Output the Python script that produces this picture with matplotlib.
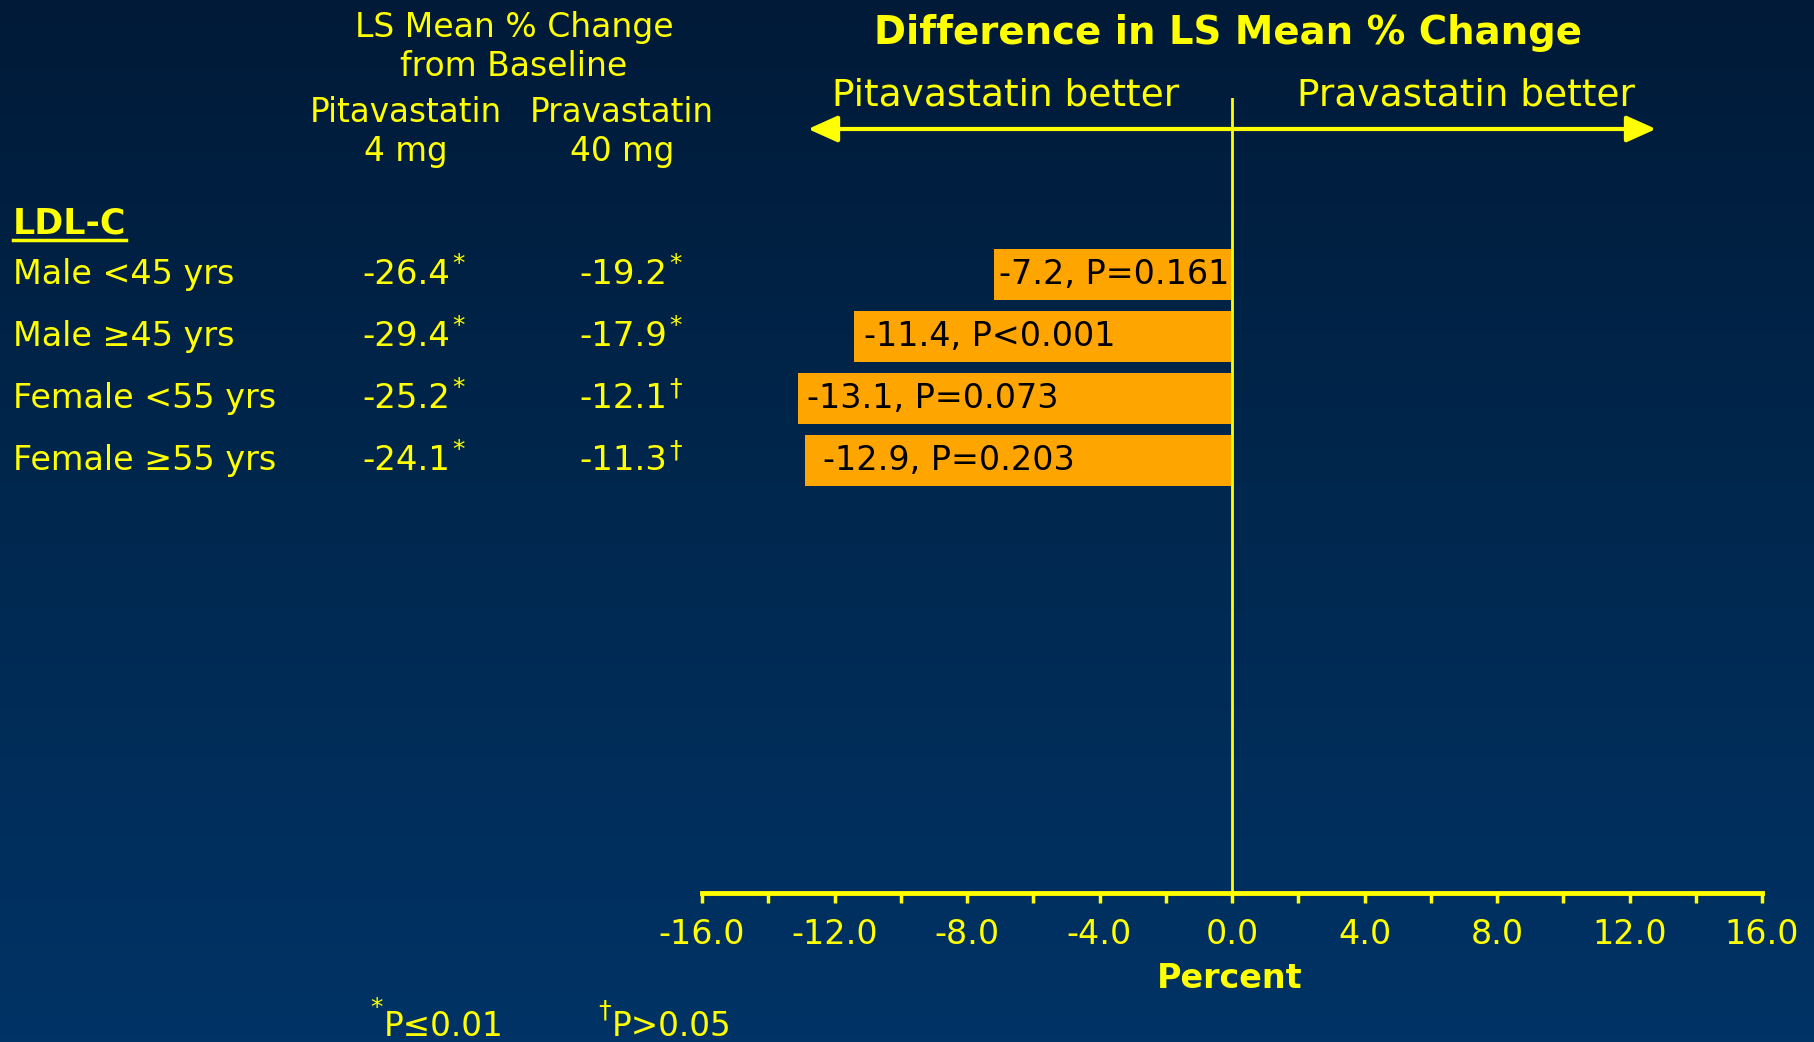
import numpy as np
import matplotlib
matplotlib.use("Agg")
import matplotlib.pyplot as plt
import matplotlib.transforms as mtransforms
from matplotlib.colors import LinearSegmentedColormap

# ---------------- data ----------------
groups = ["Male <45 yrs", "Male \u226545 yrs", "Female <55 yrs", "Female \u226555 yrs"]
pita_vals = ["-26.4", "-29.4", "-25.2", "-24.1"]
pita_marks = ["*", "*", "*", "*"]
prava_vals = ["-19.2", "-17.9", "-12.1", "-11.3"]
prava_marks = ["*", "*", "\u2020", "\u2020"]
diff_vals = [-7.2, -11.4, -13.1, -12.9]
diff_labels = ["-7.2, P=0.161", "-11.4, P<0.001", "-13.1, P=0.073", "-12.9, P=0.203"]
xticks_all = list(range(-16, 17, 2))
xtick_labels = ["%.1f" % t if t % 4 == 0 else "" for t in xticks_all]

YEL = "#FFFF00"
ORANGE = "#FFA500"
plt.rcParams["font.family"] = ["DejaVu Sans"]

W, H = 1814, 1042
fig = plt.figure(figsize=(W / 100, H / 100), dpi=100)

# background gradient
bg = fig.add_axes([0, 0, 1, 1], zorder=-10)
cmap = LinearSegmentedColormap.from_list("bg", ["#001a38", "#00284f", "#003366"])
grad = np.linspace(0, 1, 256).reshape(-1, 1)
bg.imshow(grad, aspect="auto", cmap=cmap, extent=[0, 1, 0, 1], origin="upper")
bg.axis("off")

def fx(px):
    return px / W

def fy(py):
    return 1 - py / H

# main axes: x from pixel 702 to 1762, y from 98 to 893
ax_top, ax_bot = 98, 893
row0, row_step = 274.5, 62.0
ax = fig.add_axes([fx(702), fy(ax_bot), (1762 - 702) / W, (ax_bot - ax_top) / H])
ax.patch.set_alpha(0)
ax.set_xlim(-16, 16)
ax.set_ylim((ax_bot - row0) / row_step, (ax_top - row0) / row_step)

ypos = np.arange(len(groups))
ax.barh(ypos, diff_vals, height=51 / row_step, color=ORANGE, zorder=2)
label_pads_pt = [4, 7, 6.5, 13]
for y, v, lab, pad in zip(ypos, diff_vals, diff_labels, label_pads_pt):
    ax.annotate(lab, xy=(v, y), xytext=(pad, 0), textcoords="offset points",
                ha="left", va="center", fontsize=24, color="black", zorder=3)

ax.axvline(0, color=YEL, lw=2, zorder=4)
for s in ["top", "left", "right"]:
    ax.spines[s].set_visible(False)
ax.spines["bottom"].set_color(YEL)
ax.spines["bottom"].set_linewidth(3.5)
ax.set_yticks([])
ax.set_xticks(xticks_all)
ax.set_xticklabels(xtick_labels)
ax.tick_params(axis="x", direction="out", length=7, width=2.5, color=YEL,
               labelcolor=YEL, labelsize=24, pad=11)

# arrow
arrow_y = (129 - row0) / row_step
ax.annotate("", xy=(-12.8, arrow_y), xytext=(12.8, arrow_y),
            arrowprops=dict(arrowstyle="<|-|>,head_length=0.6,head_width=0.27",
                            color=YEL, lw=3, mutation_scale=30, shrinkA=0, shrinkB=0),
            annotation_clip=False)

# texts on top
fig.text(fx(1228), fy(33), "Difference in LS Mean % Change", ha="center", va="center",
         fontsize=27.8, fontweight="bold", color=YEL)
fig.text(fx(1006), fy(96), "Pitavastatin better", ha="center", va="center",
         fontsize=27, color=YEL)
fig.text(fx(1466), fy(96), "Pravastatin better", ha="center", va="center",
         fontsize=27, color=YEL)

fig.text(fx(514), fy(27), "LS Mean % Change", ha="center", va="center", fontsize=23.8, color=YEL)
fig.text(fx(514), fy(66), "from Baseline", ha="center", va="center", fontsize=23.8, color=YEL)
fig.text(fx(406), fy(112), "Pitavastatin", ha="center", va="center", fontsize=23.5, color=YEL)
fig.text(fx(406), fy(151), "4 mg", ha="center", va="center", fontsize=23.5, color=YEL)
fig.text(fx(622), fy(112), "Pravastatin", ha="center", va="center", fontsize=23.5, color=YEL)
fig.text(fx(622), fy(151), "40 mg", ha="center", va="center", fontsize=23.5, color=YEL)

ldl = fig.text(fx(13), fy(224), "LDL-C", ha="left", va="center", fontsize=25,
               fontweight="bold", color=YEL)

# rows: x in figure coords, y in data coords
trans = mtransforms.blended_transform_factory(fig.transFigure, ax.transData)
num_texts = []
for y, g, pv, pm, rv, rm in zip(ypos, groups, pita_vals, pita_marks, prava_vals, prava_marks):
    fig.text(fx(13), y, g, transform=trans, ha="left", va="center", fontsize=24, color=YEL)
    t1 = fig.text(fx(450), y, pv, transform=trans, ha="right", va="center", fontsize=24.5, color=YEL)
    t2 = fig.text(fx(667), y, rv, transform=trans, ha="right", va="center", fontsize=24.5, color=YEL)
    num_texts.append((t1, pm))
    num_texts.append((t2, rm))

fig.text(fx(1230), fy(978), "Percent", ha="center", va="center", fontsize=24,
         fontweight="bold", color=YEL)

# footnotes
fig.text(fx(384), fy(1036), "P\u22640.01", ha="left", va="baseline", fontsize=23.5, color=YEL)
fig.text(fx(383), fy(1008), "*", ha="right", va="center", fontsize=18, color=YEL)
fig.text(fx(612), fy(1036), "P>0.05", ha="left", va="baseline", fontsize=23.5, color=YEL)
fig.text(fx(611), fy(1010), "\u2020", ha="right", va="center", fontsize=18, color=YEL)

# superscripts and underline need text extents
fig.canvas.draw()
renderer = fig.canvas.get_renderer()
for t, mark in num_texts:
    bb = t.get_window_extent(renderer)
    fig.text((bb.x1 + 2) / W, (bb.y1 + 6) / H, mark, ha="left", va="top",
             fontsize=18, color=YEL)
bb = ldl.get_window_extent(renderer)
fig.add_artist(plt.Line2D([bb.x0 / W, bb.x1 / W], [(bb.y0 + 1) / H, (bb.y0 + 1) / H],
                          transform=fig.transFigure, color=YEL, lw=2.5))

fig.savefig("out.png", dpi=100)
